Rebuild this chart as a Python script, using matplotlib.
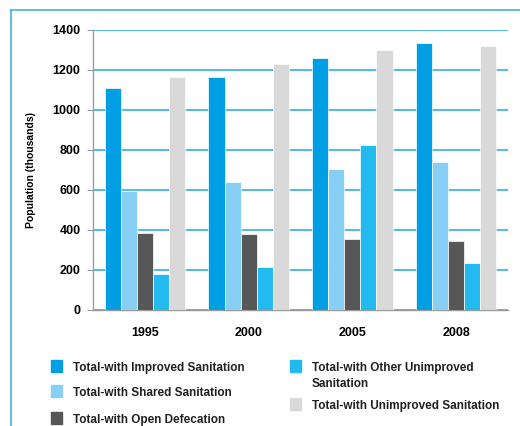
#!/usr/bin/env python3
"""Sanitation population by year, grouped bars."""

import matplotlib
matplotlib.use("Agg")
import matplotlib.pyplot as plt
import numpy as np
from matplotlib.lines import Line2D
from matplotlib.patches import Rectangle

plt.rcParams.update({
    "font.family": ["Liberation Sans", "DejaVu Sans"],
    "font.weight": "bold",
    "text.color": "#231f20",
})

YEARS = ["1995", "2000", "2005", "2008"]
IMPROVED = [1110, 1163, 1262, 1333]
SHARED = [595, 638, 703, 742]
OPEN_DEF = [383, 378, 353, 347]
OTHER_UNIMP = [178, 217, 825, 237]
UNIMPROVED = [1163, 1230, 1300, 1320]

SERIES = [
    ("Total-with Improved Sanitation", IMPROVED, "#009fe3"),
    ("Total-with Shared Sanitation", SHARED, "#88cff6"),
    ("Total-with Open Defecation", OPEN_DEF, "#575757"),
    ("Total-with Other Unimproved\nSanitation", OTHER_UNIMP, "#22baef"),
    ("Total-with Unimproved Sanitation", UNIMPROVED, "#d9d9d9"),
]

W, H = 520, 426
fig = plt.figure(figsize=(W / 100, H / 100), dpi=100)
ax = fig.add_axes([93 / W, 1 - 310 / H, (508 - 93) / W, (310 - 30) / H])

x = np.arange(len(YEARS))
bw = 0.155
for i, (label, vals, color) in enumerate(SERIES):
    ax.bar(x + (i - 2) * bw, vals, bw, color=color, edgecolor="white",
           linewidth=0.5, zorder=3)

ax.set_xlim(-0.5, len(YEARS) - 0.5)
ax.set_ylim(0, 1400)
ax.set_yticks(range(0, 1401, 200))
ax.set_xticks(x)
ax.set_xticklabels(YEARS, fontsize=9, fontweight="bold")
ax.tick_params(axis="x", length=0, pad=12)
ax.tick_params(axis="y", length=4, color="#999999", labelsize=9, pad=5)
ax.yaxis.grid(True, color="#45b4e8", linewidth=1.3, zorder=0)
ax.set_axisbelow(True)
for side in ("top", "right"):
    ax.spines[side].set_visible(False)
for side in ("left", "bottom"):
    ax.spines[side].set_color("#9a9a9a")
    ax.spines[side].set_linewidth(1.0)
ax.set_ylabel("Population (thousands)", fontsize=7.5, fontweight="bold", labelpad=12)

# legend drawn by hand: two columns, squares beside text
legend_slots = [(51, 366), (51, 391), (51, 418), (290, 366), (290, 404)]
for (label, _, color), (lx, ly) in zip(SERIES, legend_slots):
    fig.add_artist(Rectangle((lx / W, 1 - (ly + 6) / H), 11 / W, 12 / H,
                             transform=fig.transFigure, color=color))
    fig.text((lx + 22) / W, 1 - (ly - 4) / H, label, fontsize=8.5, fontweight="bold",
             ha="left", va="top", linespacing=1.45)

# light blue frame around the panel
frame = "#3fb2e6"
fig.add_artist(Line2D([11 / W, 11 / W], [0, 1 - 10 / H], color=frame, lw=1.2,
                      transform=fig.transFigure))
fig.add_artist(Line2D([11 / W, 1], [1 - 10 / H, 1 - 10 / H], color=frame, lw=1.2,
                      transform=fig.transFigure))

fig.savefig("out.png", dpi=100)
